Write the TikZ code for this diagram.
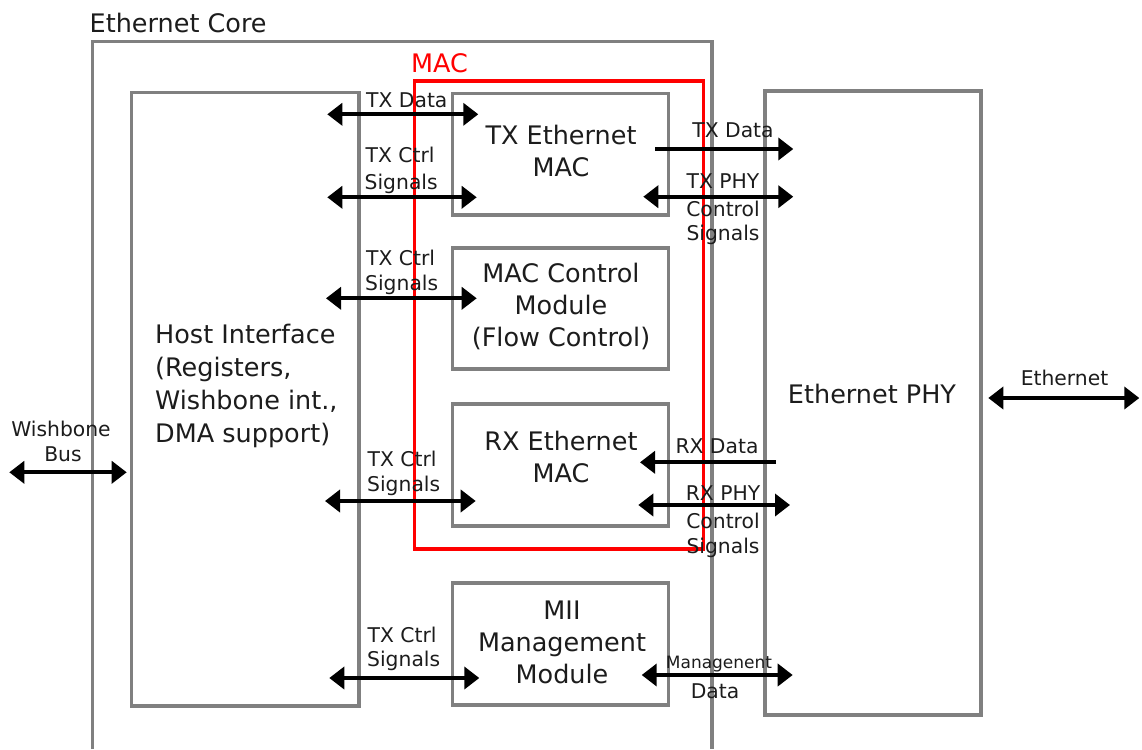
\documentclass[tikz,border=0pt]{standalone}
\usepackage{fontspec}
\setmainfont{DejaVu Sans}
\usetikzlibrary{arrows.meta}
\definecolor{boxgray}{RGB}{128,128,128}
\definecolor{txt}{RGB}{28,28,28}
\definecolor{macred}{RGB}{255,0,0}
\tikzset{
  gbox/.style={draw=boxgray, line width=3.3pt, inner sep=0pt, rectangle},
  lbl/.style={font=\fontsize{20.3}{24}\selectfont, text=txt, inner sep=0pt, anchor=base},
  lblw/.style={lbl, anchor=base west},
  big/.style={font=\fontsize{25.5}{32}\selectfont, text=txt, inner sep=0pt, align=center, anchor=base},
  tipA/.tip={Triangle[length=15pt,width=22pt]},
  dbl/.style={line width=3.7pt, draw=black, tipA-tipA},
  sgl/.style={line width=3.7pt, draw=black, -tipA},
}
\begin{document}
\begin{tikzpicture}[x=1pt,y=-1pt]
\useasboundingbox (0,0) rectangle (1142,749);
% Ethernet core (open at bottom)
\draw[draw=boxgray, line width=3.3pt] (92.5,749) -- (92.5,41.5) -- (712,41.5) -- (712,749);
\node[font=\fontsize{25.5}{28}\selectfont, text=txt, inner sep=0pt, anchor=base west] (corelbl) at (89.5,33) {Ethernet Core};
% boxes
\node[gbox, minimum width=227.3pt, minimum height=613.7pt] (host) at (245.35,399.15) {};
\node[gbox, minimum width=215.6pt, minimum height=121.7pt] (txmac) at (560.5,154.15) {};
\node[gbox, minimum width=215.6pt, minimum height=121pt] (macctrl) at (560.5,308.5) {};
\node[gbox, minimum width=215.6pt, minimum height=122pt] (rxmac) at (560.5,465) {};
\node[gbox, minimum width=215.6pt, minimum height=122pt] (mii) at (560.5,644) {};
\node[gbox, minimum width=216pt, minimum height=624pt] (phy) at (873,403) {};
% MAC red box
\node[draw=macred, line width=3.3pt, inner sep=0pt, minimum width=288.8pt, minimum height=468pt] (mac) at (558.9,315) {};
\node[font=\fontsize{25.5}{28}\selectfont, text=macred, inner sep=0pt, anchor=base west] (maclbl) at (411,72.7) {MAC};
% box texts (base = baseline of last line)
\node[big] (txmact) at (561,176) {TX Ethernet\\MAC};
\node[big] (macctrlt) at (561,346) {MAC Control\\Module\\(Flow Control)};
\node[big] (rxmact) at (561,482) {RX Ethernet\\MAC};
\node[big] (miit) at (562,683) {MII\\Management\\Module};
\node[big] (phyt) at (872,403) {Ethernet PHY};
\node[font=\fontsize{25.5}{33}\selectfont, text=txt, inner sep=0pt, align=left, anchor=base west] (hostt) at (155,442.3) {Host Interface\\(Registers,\\Wishbone int.,\\DMA support)};
% arrow end coordinates
\coordinate (a1l) at (327.3,114.3); \coordinate (a1r) at (478.3,114.3);
\coordinate (a2l) at (327.3,197.3); \coordinate (a2r) at (476.7,197.3);
\coordinate (a3l) at (326,298.3);   \coordinate (a3r) at (476.7,298.3);
\coordinate (a4l) at (325,501);     \coordinate (a4r) at (475.7,501);
\coordinate (a5l) at (329.3,678);   \coordinate (a5r) at (479.3,678);
\coordinate (b1l) at (655,149);     \coordinate (b1r) at (793.3,149);
\coordinate (b2l) at (643.3,196.7); \coordinate (b2r) at (793.3,196.7);
\coordinate (b3l) at (640,462.3);   \coordinate (b3r) at (776,462.3);
\coordinate (b4l) at (638.3,505);   \coordinate (b4r) at (790,505);
\coordinate (b5l) at (641.7,675);   \coordinate (b5r) at (792.7,675);
\coordinate (wbl) at (9.3,472.3);   \coordinate (wbr) at (126.7,472.3);
\coordinate (etl) at (988.3,398);   \coordinate (etr) at (1139.3,398);
% arrows
\draw[dbl] (a1l) -- (a1r);
\draw[dbl] (a2l) -- (a2r);
\draw[dbl] (a3l) -- (a3r);
\draw[dbl] (a4l) -- (a4r);
\draw[dbl] (a5l) -- (a5r);
\draw[sgl] (b1l) -- (b1r);
\draw[dbl] (b2l) -- (b2r);
\draw[sgl] (b3r) -- (b3l);
\draw[dbl] (b4l) -- (b4r);
\draw[dbl] (b5l) -- (b5r);
\draw[dbl] (wbl) -- (wbr);
\draw[dbl] (etl) -- (etr);
% left labels
\node[lblw] (l1) at (366,107.7) {TX Data};
\node[lblw] (l2a) at (365.5,162.7) {TX Ctrl};
\node[lblw] (l2b) at (364.5,189.3) {Signals};
\node[lblw] (l3a) at (366,265.7) {TX Ctrl};
\node[lblw] (l3b) at (365,290) {Signals};
\node[lblw] (l4a) at (367.5,466.7) {TX Ctrl};
\node[lblw] (l4b) at (367,491.7) {Signals};
\node[lblw] (l5a) at (367.5,642.7) {TX Ctrl};
\node[lblw] (l5b) at (367,666.7) {Signals};
% right labels
\node[lbl] (r1) at (733,137.7) {TX Data};
\node[lbl] (r2a) at (723,188.3) {TX PHY};
\node[lbl] (r2b) at (723,216) {Control};
\node[lbl] (r2c) at (723,240) {Signals};
\node[lbl] (r3) at (717,453.3) {RX Data};
\node[lbl] (r4a) at (723,500) {RX PHY};
\node[lbl] (r4b) at (723,528.3) {Control};
\node[lbl] (r4c) at (723,553) {Signals};
\node[lbl, font=\fontsize{17}{20}\selectfont] (r5a) at (719,668.3) {Managenent};
\node[lbl] (r5b) at (715,698.3) {Data};
\node[lbl] (wb1) at (61,436.7) {Wishbone};
\node[lbl] (wb2) at (63,461.7) {Bus};
\node[lbl] (eth) at (1064.5,385) {Ethernet};
\end{tikzpicture}
\end{document}
